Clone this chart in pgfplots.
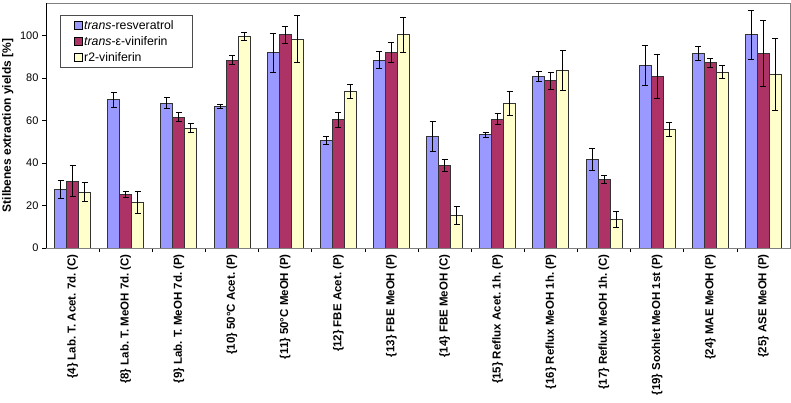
\documentclass[border=0pt]{standalone}
\usepackage{pgfplots}
\usepackage{pgfplotstable}
\usepackage{fontspec}
\setmainfont{Liberation Sans}
\pgfplotsset{compat=1.18}
\definecolor{cblue}{HTML}{9999FF}
\definecolor{cred}{HTML}{AD3366}
\definecolor{cyel}{HTML}{FFFFCC}
\pgfplotstableread{
x b be r re y ye
0 27.7 4.2 31.5 7.2 26.3 4.6
1 69.7 3.7 25.0 1.4 21.6 5.2
2 68.2 2.7 61.6 2.0 56.4 2.0
3 66.6 1.1 88.4 2.2 99.5 2.0
4 92.0 9.2 100.3 3.9 98.3 11.0
5 50.6 1.9 60.3 3.6 73.7 3.4
6 88.4 4.0 92.0 4.8 100.3 8.3
7 52.5 7.2 38.7 2.9 15.4 4.3
8 53.3 1.2 60.7 2.7 68.0 5.5
9 80.9 2.3 78.8 4.0 83.5 9.5
10 41.7 5.3 32.1 1.9 13.6 3.7
11 85.9 9.4 80.9 10.4 56.0 3.3
12 91.5 3.3 87.1 1.9 82.8 3.1
13 100.3 11.4 91.5 15.7 81.8 16.9
}\data
\begin{document}
\frenchspacing
\begin{tikzpicture}[x=1pt,y=1pt]
\useasboundingbox (0,0) rectangle (791,403);
\begin{axis}[
  at={(46pt,155pt)}, anchor=south west,
  width=744pt, height=245pt, scale only axis,
  ybar=0pt, bar width=12pt,
  xmin=-0.5, xmax=13.5, ymin=0, ymax=115.3,
  xtick={0,...,13},
  xticklabels={{\{4\} Lab. T. Acet. 7d. (C)},{\{8\} Lab. T. MeOH 7d. (C)},{\{9\} Lab. T. MeOH 7d. (P)},{\{10\} 50°C Acet. (P)},{\{11\} 50°C MeOH (P)},{\{12\} FBE Acet. (P)},{\{13\} FBE MeOH (P)},{\{14\} FBE MeOH (C)},{\{15\} Reflux Acet. 1h. (P)},{\{16\} Reflux MeOH 1h. (P)},{\{17\} Reflux MeOH 1h. (C)},{\{19\} Soxhlet MeOH 1st (P)},{\{24\} MAE MeOH (P)},{\{25\} ASE MeOH (P)}},
  x tick label style={rotate=90, anchor=east, font=\fontsize{11.5}{12}\selectfont\bfseries, inner sep=2pt},
  minor xtick={0.5,1.5,...,12.5},
  major x tick style={draw=none},
  minor x tick style={black, line width=0.6pt},
  ytick={0,20,...,100},
  y tick label style={font=\fontsize{11}{12}\selectfont, /pgf/number format/assume math mode=true},
  y tick style={black, line width=0.6pt},
  tick align=outside, major tick length=4pt, minor tick length=4pt,
  xtick pos=bottom, ytick pos=left,
  axis line style={draw=gray, line width=0.8pt},
  ylabel={Stilbenes extraction yields [\%]},
  ylabel style={font=\fontsize{12}{13}\selectfont\bfseries},
  legend style={at={(rel axis cs:0.019,0.951)}, anchor=north west, draw=gray!60!black, line width=0.6pt,
    font=\fontsize{12.3}{14}\selectfont, row sep=1.5pt, inner ysep=3pt, cells={anchor=west}},
  legend cell align=left,
  legend image code/.code={\path (-10pt,0pt); \draw[#1, draw=black, line width=0.6pt] (0pt,-4pt) rectangle (8pt,4pt);},
  every axis plot/.append style={draw=black!80, line width=0.9pt,
    error bars/error bar style={black, line width=0.9pt},
    error bars/error mark options={rotate=90, mark size=3pt, black, line width=0.9pt}},
]
\addplot[fill=cblue, error bars/.cd, y dir=both, y explicit] table[x=x, y=b, y error=be] {\data};
\addplot[fill=cred, error bars/.cd, y dir=both, y explicit] table[x=x, y=r, y error=re] {\data};
\addplot[fill=cyel, error bars/.cd, y dir=both, y explicit] table[x=x, y=y, y error=ye] {\data};
\legend{\textit{trans}-resveratrol\rule{14pt}{0pt},\textit{trans}-ε-viniferin,r2-viniferin}
\draw[black, line width=0.8pt] (rel axis cs:0,1) -- (rel axis cs:0,0) -- (rel axis cs:1,0);
\end{axis}
\end{tikzpicture}
\end{document}
